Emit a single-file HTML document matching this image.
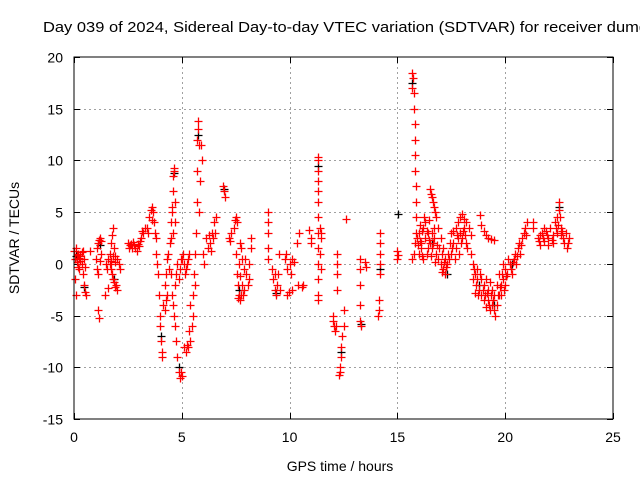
<!DOCTYPE html>
<html><head><meta charset="utf-8"><style>
body{margin:0;background:#fff;}
svg{display:block;font-family:"Liberation Sans",sans-serif;}
</style></head><body>
<svg id="chart" width="640" height="480" xmlns="http://www.w3.org/2000/svg">
<rect width="640" height="480" fill="#fff"/>
<text x="43" y="32" font-size="15" textLength="605" lengthAdjust="spacingAndGlyphs">Day 039 of 2024, Sidereal Day-to-day VTEC variation (SDTVAR) for receiver dumg</text>
<g id="grid"></g>
<g id="ticks"></g>
<g id="blackSeries"></g>
<g id="redSeries"></g>
<rect x="74" y="57" width="539" height="362" fill="none" stroke="#000" stroke-width="1"/>
<text x="340" y="471" font-size="14" text-anchor="middle">GPS time / hours</text>
<text transform="translate(19,238) rotate(-90)" font-size="14" text-anchor="middle">SDTVAR / TECUs</text>
</svg>
<script>
const xTicks = [0,5,10,15,20,25];
const yTicks = [-15,-10,-5,0,5,10,15,20];
const redPoints = [
[0.0,1.2],[0.05,0.5],[0.1,1.5],[0.15,0.2],[0.2,1],[0.25,-0.5],[0.3,0.8],[0.35,0],[0.4,-1],[0.4,1.2],[0.45,0.5],[0.5,-0.3],[0.45,-2],[0.5,-2.7],[0.55,-3],[0.1,-3],[0.05,-1.5],[0.2,-0.3],[0.3,0.3],[0.15,0.9],[0.25,0.6],[0.35,1.1],
[0.75,1.2],
[1.05,1.5],[1.1,2],[1.15,2.3],[1.2,2.5],[1.25,2.2],[1.0,0.5],[1.05,-0.5],[1.1,-1],[1.2,0.3],[1.25,1],[1.1,-4.5],[1.15,-5.2],
[1.5,0],[1.55,-0.5],[1.6,0.5],[1.65,1],[1.7,0.3],[1.75,-1],[1.8,-1.5],[1.85,-1.8],[1.9,-2.2],[1.95,-2],[2.0,-2.5],[1.7,2],[1.75,2.8],[1.8,3.5],[1.85,1.5],[1.9,0.8],[2.0,0.5],[2.1,0],[2.15,-0.5],[1.6,-2.3],[1.45,-3],[1.7,-0.5],[1.9,0.2],[1.65,0],[1.8,0.8],
[2.5,2],[2.6,1.8],[2.7,1.5],[2.8,1.8],[2.9,1.2],[3.0,1.7],[3.1,2.5],[3.15,3.2],[3.2,3],[3.3,3.5],[2.55,1.5],[2.75,2.1],[2.95,1.9],[3.05,2.2],[2.65,1.9],[2.85,1.5],
[3.4,3.5],[3.5,4.5],[3.55,5.2],[3.6,5.5],[3.65,5],[3.7,4],[3.75,3],[3.8,2.5],[3.45,3],[3.6,4.2],
[3.8,1],[3.85,0],[3.9,-1],[3.95,-3],[4.0,-5],[4.0,-6],[4.05,-7.5],[4.1,-8.5],[4.1,-9],[4.15,-4],[4.2,-4.5],[4.25,-3.5],[4.3,-3],[4.2,-2],[4.3,0.5],[4.35,1],[4.4,-0.5],[4.25,-1],
[4.45,2],[4.5,4],[4.55,5.5],[4.6,7],[4.6,8.5],[4.65,9.3],[4.7,6],[4.7,4],[4.6,3],[4.55,5],[4.62,9],[4.52,2.5],
[4.5,-1],[4.55,-3],[4.6,-4],[4.65,-5],[4.7,-6],[4.75,-7.5],[4.8,-9],[4.85,-10.5],[4.9,-11],[4.95,-10.5],[5.0,-10.8],[4.7,-2],[4.75,-1],[4.8,0],[4.85,-1.5],[4.9,-0.5],[4.95,0.5],
[5.1,-8],[5.2,-8.5],[5.3,-8],[5.4,-7.5],[5.5,-5],[5.5,-3],[5.55,-1],[5.6,1],[5.65,3],[5.7,6],[5.7,9],[5.72,12],[5.75,13],[5.73,13.8],[5.8,11.5],[5.9,11.5],[5.95,10],[5.85,8],[5.8,5],[5.6,-2],[5.4,-4],[5.45,-6],[5.25,-7.8],[5.35,-6.5],
[5.0,0.5],[5.1,0],[5.2,-0.5],[5.3,0.5],[5.35,1],[5.05,1],[5.25,0],[5.15,-1],
[6.0,1],[6.1,2.5],[6.2,1.5],[6.3,2],[6.4,3],[6.5,4],[6.6,4.5],[6.55,3],[6.05,0],[6.45,2.5],[6.25,2.8],[6.35,1.2],
[6.9,7.5],[6.95,7],[7.0,6.5],
[7.2,2.5],[7.3,3],[7.4,3.5],[7.5,4.5],[7.55,4],[7.25,2.2],[7.45,4.2],
[7.5,1],[7.55,-1],[7.6,-2],[7.65,-3],[7.7,-3.5],[7.75,-3],[7.8,-2],[7.9,-2.5],[8.0,-1],[8.1,0],[8.2,2.5],[8.2,1.5],[7.7,2],[7.8,0.5],[7.6,-3.3],[7.85,-3],[7.95,0.5],[7.75,1.5],[7.65,0],[8.05,-2],[7.7,-1.2],[7.9,-0.5],[8.1,-1.5],
[9.0,5],[9.0,4],[9.0,3],[9.0,1.5],[9.0,0.5],
[9.2,-0.5],[9.25,-1.5],[9.3,-2.5],[9.35,-3],[9.4,-2],[9.45,-1],[9.5,1],[9.55,-2.5],[9.3,-1],
[9.8,0.5],[9.9,-0.5],[10.0,0],[10.05,-1],[10.1,-2.5],[9.9,-3],[9.95,-2.7],[10.1,0.5],[10.2,0.2],[9.85,1],
[10.35,2],[10.45,3],[10.4,-2],[10.56,-2.2],[10.6,-2],
[10.9,3.3],[11.0,2.5],[11.0,2],
[11.3,10.3],[11.3,10],[11.3,9],[11.3,8],[11.32,7],[11.32,6],[11.32,4.5],[11.32,3],[11.32,1.5],[11.32,0],[11.32,-1.5],[11.32,-3],[11.32,-3.5],[11.4,3.5],[11.45,2.5],[11.4,1],[11.45,-0.5],[11.45,3],
[12.0,-5],[12.05,-6],[12.1,-6.5],[12.0,-5.5],[12.15,-6],
[12.3,-10.7],[12.35,-10],[12.4,-9],[12.4,-8],[12.45,-7],[12.5,-6],[12.5,-4.5],[12.35,-10.5],
[12.2,1],[12.2,0],[12.2,-1],[12.2,-2.5],[12.6,4.3],
[13.25,0.5],[13.25,-0.5],[13.25,-2],[13.25,-4],[13.25,-5.5],[13.3,-6],
[13.5,0.2],[13.55,-0.3],
[14.2,3],[14.2,2],[14.2,1],[14.2,0],[14.2,-1],[14.15,-3.5],[14.1,-5],[14.15,-4.5],
[15.0,1.2],[15.0,0.5],[15.05,0.9],
[15.7,18.5],[15.72,18],[15.7,17],[15.75,16.5],[15.75,15],[15.8,13.5],[15.8,12],[15.82,10.5],[15.82,9],[15.85,7.5],[15.85,6],[15.85,4.5],[15.85,3],[15.8,2],[15.75,1],[15.7,0.5],
[16.5,7.2],[16.6,6.5],[16.7,5.5],[16.8,4.5],[16.9,3.5],[17.0,2.5],[17.1,1.5],[16.55,6.8],[16.65,6],[16.75,5],
[15.9,2.5],[16.0,3],[16.1,2],[16.2,3.5],[16.3,4],[16.4,3],[16.5,2],[16.6,1.5],[16.7,2.5],[16.8,1],[16.9,0.5],[17.0,0],[17.1,-0.5],[17.2,-1],[17.3,0],[17.4,0.5],[17.5,1],[17.6,2],[17.7,1.5],[17.8,2.5],[17.9,3],[18.0,2.5],[18.1,3.5],[18.2,2],
[16.0,1],[16.1,1.5],[16.2,0.5],[16.3,2.5],[16.4,1.5],[16.6,3],[16.75,0.2],[16.95,1.5],[17.2,0.5],[17.45,2],[17.65,0.5],[17.85,1],[16.25,4.5],[16.45,4.2],[16.15,3.2],
[15.95,1.8],[16.05,2.2],[16.15,0.8],[16.35,3.2],[16.45,2.3],[16.55,0.8],[16.65,2],[16.85,1.8],[17.05,1],[17.15,0.2],[17.25,-0.3],[17.35,1],[17.55,1.5],[17.75,2.8],[17.95,2],[18.05,3.2],[18.15,2.8],[18.25,1.5],[16.05,3.8],[16.35,1],[16.7,3.5],[17.05,-0.8],
[17.5,3],[17.7,3.5],[17.9,4.5],[18.1,4.3],[18.3,3.5],[18.0,4.8],[17.8,4],[18.2,4],[17.6,3.2],[18.4,2.8],
[18.4,1],[18.5,0],[18.6,-1],[18.7,-1.5],[18.8,-2.5],[18.9,-3],[19.0,-3.5],[19.2,-3.5],[19.4,-4],[19.5,-4.5],[19.6,-4],[19.7,-3],[19.8,-2],[19.9,-1.5],[20.0,-0.5],[20.2,0],[20.4,0.5],[20.6,1.5],[20.8,2.5],[20.9,3.5],
[18.5,-1.5],[18.7,-0.5],[18.9,-1.5],[19.0,-2],[19.1,-1.5],[19.2,-2.5],[19.3,-1.8],[19.4,-2.5],[19.5,-3],[19.6,-2],[19.7,-1],[19.8,-3],[19.9,0],[20.0,-2],[20.1,-1],[20.3,-1],[20.5,0],[20.7,1],[18.6,-2.8],[19.1,-4.2],[19.3,-4.5],[19.55,-5],
[18.55,-0.5],[18.65,-2],[18.75,-3],[18.85,-1],[18.95,-2.5],[19.05,-3],[19.15,-2.8],[19.25,-4],[19.35,-3],[19.45,-3.5],[19.65,-3],[19.75,-2.2],[19.85,-1],[19.95,-2.5],[20.05,-1.2],[20.15,0.5],[20.25,-0.5],[20.35,0.2],[20.45,1],[20.55,0.8],[20.65,2],[20.75,1.8],[20.85,3],[20.95,2.8],[21.0,4],
[18.85,4.7],[18.9,3.8],[19.0,3.2],[19.1,2.8],[19.2,2.5],[19.35,2.4],[19.5,2.3],
[21.3,4],[21.3,3.5],
[21.5,2.5],[21.6,1.8],[21.7,3],[21.8,2.2],[21.9,3.2],[22.0,2.5],[22.1,3.5],[22.2,2.8],[22.3,4],[22.4,4.5],[22.5,6],[22.5,5.2],[22.6,3.5],[22.7,2.5],[22.8,3],[22.9,2],[21.6,2.8],[21.8,3.5],[22.0,1.8],[22.2,2],[22.4,3],[22.6,2.8],[22.85,1.5],
[21.55,2.2],[21.75,2.5],[21.95,2.8],[22.15,2.3],[22.35,3.5],[22.45,3.8],[22.55,4.5],[22.65,3.2],[22.75,2],[22.95,2.5]
];
const blackPoints = [
[0.1,0.8],[0.45,-2.2],[1.2,1.8],[1.85,-1.5],[4.05,-7],[4.65,8.8],[4.85,-10],[5.75,12.5],[6.95,7.2],[7.65,-2.5],[9.35,-2.8],[11.3,9.5],[12.4,-8.5],[13.3,-5.8],[14.2,-0.5],[15.05,4.8],[15.7,17.5],[16.6,2],[17.3,-1],[18.8,-2],[19.5,-4],[20.3,0],[22.5,5.5]
];
const NS="http://www.w3.org/2000/svg";
const L=74,R=613,T=57,B=419;
function xScale(h){return L+(h-0)/(25-0)*(R-L);}
function yScale(v){return B-(v+15)/(35)*(B-T);}
const grid=document.getElementById('grid'), ticks=document.getElementById('ticks');
function line(p,x1,y1,x2,y2,st,dash){const e=document.createElementNS(NS,'line');e.setAttribute('x1',x1);e.setAttribute('y1',y1);e.setAttribute('x2',x2);e.setAttribute('y2',y2);e.setAttribute('stroke',st);if(dash)e.setAttribute('stroke-dasharray',dash);p.appendChild(e);return e;}
function text(p,x,y,s,anchor){const e=document.createElementNS(NS,'text');e.setAttribute('x',x);e.setAttribute('y',y);e.setAttribute('font-size','14');e.setAttribute('text-anchor',anchor);e.textContent=s;p.appendChild(e);return e;}
xTicks.forEach(t=>{const x=Math.round(xScale(t))+0.5;
 if(t>0&&t<25){const g=line(grid,x,T,x,B,'#a0a0a0','2,3');
 
 }
 const k=line(ticks,x,B,x,B-6,'#000');
 
 
 const k2=line(ticks,x,T,x,T+6,'#000');
 
 
 const lb=text(ticks,xScale(t),442,String(t),'middle');
 
 
});
yTicks.forEach(t=>{const y=Math.round(yScale(t))+0.5;
 if(t>-15&&t<20){const g=line(grid,L,y,R,y,'#a0a0a0','2,3');
 
 }
 const k=line(ticks,L,y,L+6,y,'#000');
 
 
 const k2=line(ticks,R,y,R-6,y,'#000');
 
 
 const lb=text(ticks,63,y+5,String(t),'end');
 
 
});
function drawSeries(id,pts,color,name){const g=document.getElementById(id);let d='';
 pts.forEach(p=>{const x=Math.round(xScale(p[0]))+0.5,y=Math.round(yScale(p[1]))+0.5;d+=`M${x-4},${y}h8M${x},${y-4}v8`;});
 const e=document.createElementNS(NS,'path');e.setAttribute('d',d);e.setAttribute('stroke',color);e.setAttribute('stroke-width','1.3');e.setAttribute('fill','none');
 
 
 g.appendChild(e);}
drawSeries('blackSeries',blackPoints,'#000','black-markers');
drawSeries('redSeries',redPoints,'#ff0000','red-markers');
</script>
</body></html>
